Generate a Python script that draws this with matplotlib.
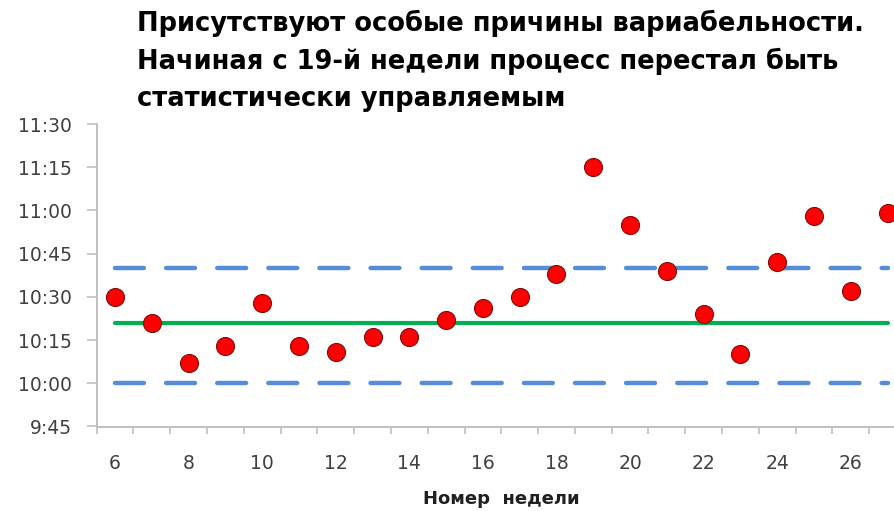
import matplotlib
matplotlib.use('Agg')
import matplotlib.pyplot as plt
from matplotlib.ticker import FixedLocator, FuncFormatter

weeks = list(range(6, 28))
times = ['10:30', '10:21', '10:07', '10:13', '10:28', '10:13', '10:11', '10:16',
         '10:16', '10:22', '10:26', '10:30', '10:38', '11:15', '10:55', '10:39',
         '10:24', '10:10', '10:42', '10:58', '10:32', '10:59']
center = '10:21'
lower = '10:00'
upper = '10:40'
title = ('Присутствуют особые причины вариабельности.\n'
         'Начиная с 19-й недели процесс перестал быть\n'
         'статистически управляемым')
xlabel = 'Номер  недели'


def to_min(s):
    h, m = s.split(':')
    return int(h) * 60 + int(m)


def fmt_time(v, pos):
    v = int(round(v))
    return f'{v // 60}:{v % 60:02d}'


plt.rcParams['font.family'] = ['DejaVu Sans']

fig = plt.figure(figsize=(8.94, 5.11), dpi=100)
ax = fig.add_axes([96.6 / 894, 1 - 426.5 / 511, (906 - 96.6) / 894, (426.5 - 124) / 511])

y = [to_min(t) for t in times]
n = len(weeks)
ax.plot(weeks, [to_min(center)] * n, color='#00B050', lw=3, solid_capstyle='round', zorder=2)
for lim in (lower, upper):
    ax.plot(weeks, [to_min(lim)] * n, color='#558ED5', lw=3.2,
            dashes=(6.5, 5), dash_capstyle='round', zorder=2)
ax.plot(weeks, y, 'o', color='#FF0000', markersize=13,
        markeredgecolor='#7f1010', markeredgewidth=0.8, zorder=3)

ax.set_xlim(5.5, 27.5)
ax.set_ylim(to_min('9:45'), to_min('11:30'))
ax.yaxis.set_major_locator(FixedLocator(range(to_min('9:45'), to_min('11:30') + 1, 15)))
ax.yaxis.set_major_formatter(FuncFormatter(fmt_time))
ax.set_xticks(range(6, 28, 2))
ax.set_xticks([w - 0.5 for w in weeks] + [27.5], minor=True)
ax.tick_params(axis='x', which='major', length=0, pad=20, labelsize=13.5, labelcolor='#404040')
ax.tick_params(axis='x', which='minor', length=5, color='#bfbfbf', width=1.2)
ax.tick_params(axis='y', length=7, color='#bfbfbf', width=1.2, pad=11,
               labelsize=13.5, labelcolor='#404040')

for side in ('top', 'right'):
    ax.spines[side].set_visible(False)
for side in ('left', 'bottom'):
    ax.spines[side].set_color('#bfbfbf')
    ax.spines[side].set_linewidth(1.4)

ax.set_xlabel(xlabel, fontsize=13, fontweight='bold', color='#202020', labelpad=12)
fig.text(137 / 894, 1 - 10 / 511, title, ha='left', va='top', fontsize=18.5,
         fontweight='bold', color='#000000', linespacing=1.52)

fig.savefig('out.png', dpi=100)
